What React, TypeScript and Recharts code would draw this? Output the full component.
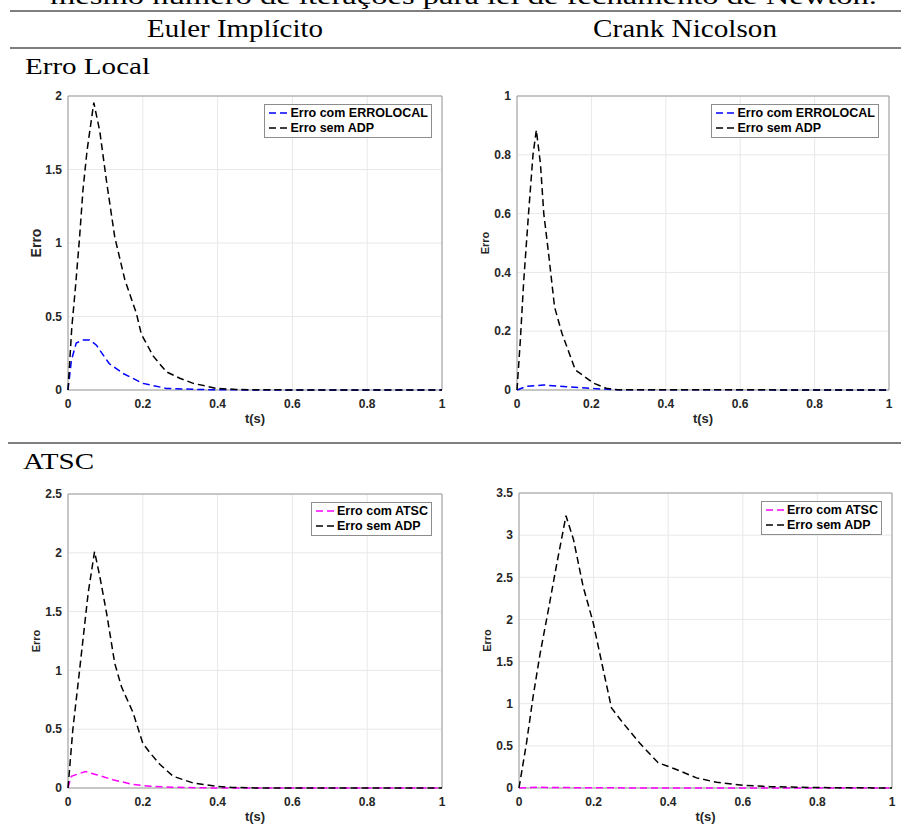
import {
  CartesianGrid,
  Legend,
  Line,
  LineChart,
  ReferenceArea,
  XAxis,
  YAxis,
} from 'recharts';

// Euler implícito - erro local
const eiLocalComT = [0, 0.009, 0.022, 0.04, 0.058, 0.076, 0.11, 0.147, 0.2, 0.263, 0.35, 0.5, 1];
const eiLocalComE = [0, 0.2, 0.32, 0.34, 0.34, 0.305, 0.18, 0.113, 0.045, 0.011, 0.003, 0, 0];
const eiLocalSemT = [0, 0.01, 0.02, 0.031, 0.04, 0.051, 0.069, 0.085, 0.103, 0.125, 0.152, 0.183, 0.196, 0.228, 0.263, 0.299, 0.335, 0.397, 0.45, 0.5, 1];
const eiLocalSemE = [0, 0.42, 0.7, 1.04, 1.36, 1.63, 1.955, 1.76, 1.42, 1.04, 0.75, 0.52, 0.38, 0.23, 0.124, 0.08, 0.045, 0.011, 0.004, 0.001, 0];

// Crank Nicolson - erro local
const cnLocalComT = [0, 0.027, 0.072, 0.134, 0.2, 0.27, 1];
const cnLocalComE = [0, 0.013, 0.017, 0.011, 0.005, 0.001, 0];
const cnLocalSemT = [0, 0.009, 0.018, 0.031, 0.043, 0.052, 0.063, 0.072, 0.085, 0.101, 0.121, 0.157, 0.206, 0.24, 0.27, 1];
const cnLocalSemE = [0, 0.17, 0.37, 0.6, 0.8, 0.884, 0.77, 0.6, 0.463, 0.282, 0.192, 0.068, 0.023, 0.006, 0.001, 0];

// Euler implícito - ATSC
const eiAtscComT = [0, 0.009, 0.027, 0.047, 0.076, 0.12, 0.174, 0.22, 0.28, 0.4, 1];
const eiAtscComE = [0, 0.1, 0.12, 0.14, 0.113, 0.07, 0.03, 0.015, 0.006, 0, 0];
const eiAtscSemT = [0, 0.013, 0.027, 0.04, 0.054, 0.071, 0.085, 0.103, 0.125, 0.143, 0.174, 0.2, 0.219, 0.246, 0.281, 0.335, 0.397, 0.44, 0.5, 1];
const eiAtscSemE = [0, 0.5, 0.89, 1.26, 1.66, 2.01, 1.8, 1.49, 1.06, 0.86, 0.64, 0.38, 0.3, 0.2, 0.1, 0.042, 0.014, 0.005, 0.001, 0];

// Crank Nicolson - ATSC
const cnAtscComT = [0, 0.05, 0.15, 0.3, 1];
const cnAtscComE = [0, 0.008, 0.004, 0.001, 0];
const cnAtscSemT = [0, 0.02, 0.038, 0.056, 0.079, 0.1, 0.126, 0.146, 0.172, 0.199, 0.226, 0.248, 0.279, 0.324, 0.373, 0.422, 0.476, 0.53, 0.6, 0.672, 0.753, 0.84, 1];
const cnAtscSemE = [0, 0.53, 1.09, 1.58, 2.12, 2.63, 3.23, 2.95, 2.39, 1.96, 1.4, 0.95, 0.77, 0.53, 0.3, 0.22, 0.12, 0.067, 0.032, 0.016, 0.008, 0.004, 0];

const xTicks = [0, 0.2, 0.4, 0.6, 0.8, 1];
const yTicksEiLocal = [0, 0.5, 1, 1.5, 2];
const yTicksCnLocal = [0, 0.2, 0.4, 0.6, 0.8, 1];
const yTicksEiAtsc = [0, 0.5, 1, 1.5, 2, 2.5];
const yTicksCnAtsc = [0, 0.5, 1, 1.5, 2, 2.5, 3, 3.5];

const SANS = '"Liberation Sans", Arial, sans-serif';
const SERIF = '"Liberation Serif", "Times New Roman", serif';

const zip = (t: number[], e: number[]) => t.map((x, i) => ({ t: x, e: e[i] }));

type Serie = { name: string; color: string; data: { t: number; e: number }[] };

function LegendBox({ payload }: any) {
  return (
    <div
      style={{
        border: '1px solid #8c8c8c',
        background: '#fff',
        padding: '1px 3px 2px 3px',
        fontFamily: SANS,
        fontWeight: 'bold',
        fontSize: 12.5,
        color: '#000',
        whiteSpace: 'nowrap',
      }}
    >
      {(payload || []).map((p: any) => (
        <div key={p.value} style={{ display: 'flex', alignItems: 'center', height: 14.5 }}>
          <svg width={20} height={6} style={{ marginRight: 2 }}>
            <line x1={1} x2={19} y1={3} y2={3} stroke={p.color} strokeWidth={1.5} strokeDasharray="7 4" />
          </svg>
          <span>{p.value}</span>
        </div>
      ))}
    </div>
  );
}

function Panel({
  plotLeft,
  plotTop,
  plotW,
  plotH,
  yMax,
  yTicks,
  series,
  yLabelSize,
}: {
  plotLeft: number;
  plotTop: number;
  plotW: number;
  plotH: number;
  yMax: number;
  yTicks: number[];
  series: Serie[];
  yLabelSize: number;
}) {
  const width = 64 + plotW + 15;
  const height = 10 + plotH + 56;
  const tickStyle = { fill: '#262626', fontSize: 12, fontWeight: 'bold', fontFamily: SANS };
  return (
    <div style={{ position: 'absolute', left: plotLeft - 64, top: plotTop - 10 }}>
      <LineChart width={width} height={height} margin={{ top: 10, right: 15, bottom: 0, left: 0 }}>
        <CartesianGrid stroke="#e8e8e8" />
        <XAxis
          type="number"
          dataKey="t"
          domain={[0, 1]}
          ticks={xTicks}
          interval={0}
          height={56}
          axisLine={false}
          tickLine={false}
          tickMargin={3}
          tick={tickStyle}
          label={{
            value: 't(s)',
            position: 'center',
            fill: '#262626',
            fontSize: 13,
            fontWeight: 'bold',
            fontFamily: SANS,
          }}
        />
        <YAxis
          type="number"
          domain={[0, yMax]}
          ticks={yTicks}
          interval={0}
          width={64}
          axisLine={false}
          tickLine={false}
          tickMargin={0}
          tick={tickStyle}
          label={{
            value: 'Erro',
            angle: -90,
            position: 'center',
            fill: '#262626',
            fontSize: yLabelSize,
            fontWeight: 'bold',
            fontFamily: SANS,
          }}
        />
        <ReferenceArea x1={0} x2={1} y1={0} y2={yMax} fill="none" stroke="#9a9a9a" strokeWidth={1} ifOverflow="visible" />
        {series.map((s) => (
          <Line
            key={s.name}
            data={s.data}
            dataKey="e"
            name={s.name}
            type="linear"
            stroke={s.color}
            strokeWidth={1.5}
            strokeDasharray="7 4"
            dot={false}
            activeDot={false}
            isAnimationActive={false}
          />
        ))}
        <Legend
          layout="horizontal"
          verticalAlign="middle"
          align="center"
          wrapperStyle={{ left: 'auto', right: 15 + 10, top: 10 + 8, width: 'auto', height: 'auto' }}
          content={(props: any) => <LegendBox payload={props.payload} />}
        />
      </LineChart>
    </div>
  );
}

export default function App() {
  return (
    <div style={{ position: 'absolute', left: 0, top: 0, width: 901, height: 833, background: '#fff', overflow: 'hidden' }}>
      <svg width={901} height={833} style={{ position: 'absolute', left: 0, top: 0 }}>
        <text x={50} y={4} fontFamily={SERIF} fontSize={24} textLength={827} lengthAdjust="spacingAndGlyphs">
          mesmo número de iterações para lei de fechamento de Newton.
        </text>
        <line x1={10} x2={901} y1={11} y2={11} stroke="#555" strokeWidth={1.4} />
        <text x={147} y={37} fontFamily={SERIF} fontSize={26} textLength={176} lengthAdjust="spacingAndGlyphs">
          Euler Implícito
        </text>
        <text x={593} y={37} fontFamily={SERIF} fontSize={26} textLength={184} lengthAdjust="spacingAndGlyphs">
          Crank Nicolson
        </text>
        <line x1={10} x2={901} y1={48} y2={48} stroke="#555" strokeWidth={1.4} />
        <text x={25} y={74} fontFamily={SERIF} fontSize={24} textLength={125} lengthAdjust="spacingAndGlyphs">
          Erro Local
        </text>
        <line x1={8} x2={901} y1={443} y2={443} stroke="#555" strokeWidth={1.4} />
        <text x={23} y={469} fontFamily={SERIF} fontSize={24} textLength={71} lengthAdjust="spacingAndGlyphs">
          ATSC
        </text>
      </svg>
      <Panel
        plotLeft={68}
        plotTop={96}
        plotW={374}
        plotH={294}
        yMax={2}
        yTicks={yTicksEiLocal}
        yLabelSize={14}
        series={[
          { name: 'Erro com ERROLOCAL', color: '#0000ff', data: zip(eiLocalComT, eiLocalComE) },
          { name: 'Erro sem ADP', color: '#000000', data: zip(eiLocalSemT, eiLocalSemE) },
        ]}
      />
      <Panel
        plotLeft={517}
        plotTop={96}
        plotW={372}
        plotH={294}
        yMax={1}
        yTicks={yTicksCnLocal}
        yLabelSize={11}
        series={[
          { name: 'Erro com ERROLOCAL', color: '#0000ff', data: zip(cnLocalComT, cnLocalComE) },
          { name: 'Erro sem ADP', color: '#000000', data: zip(cnLocalSemT, cnLocalSemE) },
        ]}
      />
      <Panel
        plotLeft={68}
        plotTop={494}
        plotW={374}
        plotH={294}
        yMax={2.5}
        yTicks={yTicksEiAtsc}
        yLabelSize={11}
        series={[
          { name: 'Erro com ATSC', color: '#ff00ff', data: zip(eiAtscComT, eiAtscComE) },
          { name: 'Erro sem ADP', color: '#000000', data: zip(eiAtscSemT, eiAtscSemE) },
        ]}
      />
      <Panel
        plotLeft={519}
        plotTop={493}
        plotW={373}
        plotH={295}
        yMax={3.5}
        yTicks={yTicksCnAtsc}
        yLabelSize={11}
        series={[
          { name: 'Erro com ATSC', color: '#ff00ff', data: zip(cnAtscComT, cnAtscComE) },
          { name: 'Erro sem ADP', color: '#000000', data: zip(cnAtscSemT, cnAtscSemE) },
        ]}
      />
    </div>
  );
}
